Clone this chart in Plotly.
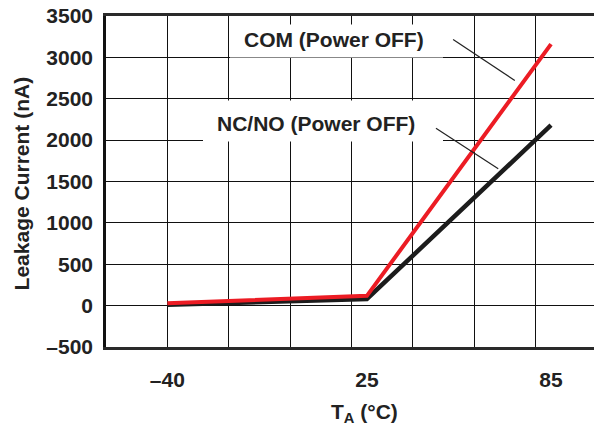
import plotly.graph_objects as go

# ---- data ----
temps = [-40, 25, 85]
com_leak = [30, 118, 3160]
ncno_leak = [10, 80, 2180]

x_tick_vals = [-40, 25, 85]
x_tick_text = ["\u201340", "25", "85"]
y_tick_vals = [-500, 0, 500, 1000, 1500, 2000, 2500, 3000, 3500]
y_tick_text = ["\u2013500", "0", "500", "1000", "1500", "2000", "2500", "3000", "3500"]

FONT = "Liberation Sans, Arial, Helvetica, sans-serif"
FS = 21

fig = go.Figure()
fig.add_trace(go.Scatter(x=temps, y=ncno_leak, mode="lines",
                         line=dict(color="#1c1c1c", width=4.5),
                         name="NC/NO (Power OFF)", showlegend=False))
fig.add_trace(go.Scatter(x=temps, y=com_leak, mode="lines",
                         line=dict(color="#ec1c24", width=4),
                         name="COM (Power OFF)", showlegend=False))

# white label boxes hiding the grid
fig.add_shape(type="rect", x0=-19.6, x1=49.8, y0=3000, y1=3397,
              fillcolor="white", line=dict(width=0), layer="between")
fig.add_shape(type="rect", x0=-28.4, x1=49.8, y0=1984, y1=2479,
              fillcolor="white", line=dict(width=0), layer="between")
# leader lines
fig.add_shape(type="line", x0=53.1, y0=3216, x1=73.2, y1=2721,
              line=dict(color="#222", width=1.2))
fig.add_shape(type="line", x0=47.5, y0=2145, x1=67.8, y1=1654,
              line=dict(color="#222", width=1.2))

fig.add_annotation(x=14.4, y=3216, text="COM (Power OFF)", showarrow=False,
                   font=dict(family=FONT, size=FS, color="#222", weight="bold"),
                   xanchor="center", yanchor="middle")
fig.add_annotation(x=8.4, y=2201, text="NC/NO (Power OFF)", showarrow=False,
                   font=dict(family=FONT, size=FS, color="#222", weight="bold"),
                   xanchor="center", yanchor="middle")

# axis titles
fig.add_annotation(xref="paper", yref="paper", x=(364 - 106) / 488, y=-(413 - 346.7) / 331.2,
                   text="T<sub>A</sub> (\u00b0C)", showarrow=False,
                   font=dict(family=FONT, size=FS, color="#222", weight="bold"),
                   xanchor="center", yanchor="middle")
fig.add_annotation(xref="paper", yref="paper", x=(21 - 106) / 488, y=(346.7 - 183) / 331.2,
                   text="Leakage Current (nA)", showarrow=False, textangle=-90,
                   font=dict(family=FONT, size=FS, color="#222", weight="bold"),
                   xanchor="center", yanchor="middle")

fig.update_xaxes(range=[-60, 99], tickvals=x_tick_vals, ticktext=x_tick_text,
                 showgrid=False, zeroline=False,
                 minor=dict(tick0=-60, dtick=20, showgrid=True, gridcolor="#111", gridwidth=1),
                 showline=True, linecolor="#2a2a2a", linewidth=2.5, mirror=True,
                 ticks="outside", ticklen=0, ticklabelstandoff=12,
                 tickfont=dict(family=FONT, size=FS, color="#222", weight="bold"))
fig.update_yaxes(range=[-500, 3500], tickvals=y_tick_vals, ticktext=y_tick_text,
                 showgrid=True, gridcolor="#111", gridwidth=1, zeroline=False,
                 showline=True, linecolor="#111", linewidth=2.5, mirror=False,
                 ticks="outside", ticklen=0, ticklabelstandoff=6,
                 tickfont=dict(family=FONT, size=FS, color="#222", weight="bold"))

fig.update_layout(width=594, height=425,
                  margin=dict(l=106, r=0, t=15.5, b=78.3),
                  paper_bgcolor="white", plot_bgcolor="white",
                  showlegend=False)

fig.write_html("out.html", config={"displayModeBar": False},
               post_script="document.body.style.margin='0';document.body.style.overflow='hidden';")
